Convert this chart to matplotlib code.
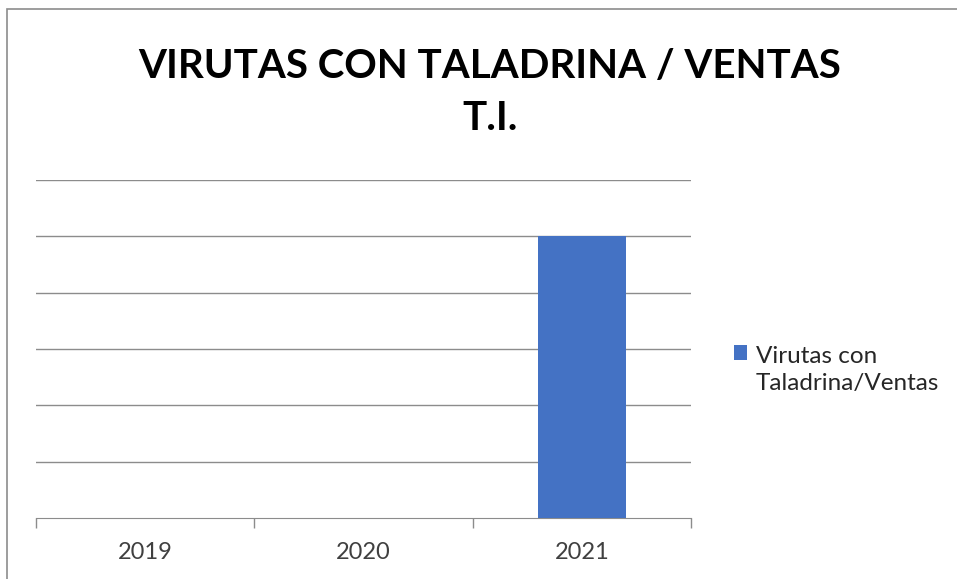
import matplotlib
matplotlib.use("Agg")
import matplotlib.pyplot as plt
from matplotlib.patches import Rectangle
from matplotlib.container import BarContainer
from matplotlib.legend_handler import HandlerPatch, update_from_first_child

categories = ["2019", "2020", "2021"]
values = [0, 0, 5]
series_name = "Virutas con\nTaladrina/Ventas"
title = "VIRUTAS CON TALADRINA / VENTAS\nT.I."

plt.rcParams['font.family'] = ['Lato', 'DejaVu Sans']

W, H = 957, 579
fig = plt.figure(figsize=(W/100, H/100), dpi=100)
fig.patch.set_facecolor('white')

# chart border (top and left visible)
fig.add_artist(Rectangle((7/W, -0.1), 1.2, 1 - 9/H + 0.1, transform=fig.transFigure,
                         fill=False, edgecolor='#8c8c8c', linewidth=1.2))

ax = fig.add_axes([36/W, 1 - 518/H, (691-36)/W, (518-180)/H])
x = list(range(len(categories)))
ax.bar(x, values, width=0.4, color='#4472C4', zorder=3, label=series_name)
ax.set_xlim(-0.5, 2.5)
ax.set_ylim(0, 6)
ax.set_yticks([1, 2, 3, 4, 5, 6])
ax.yaxis.grid(True, color='#8c8c8c', linewidth=1)
ax.tick_params(axis='y', length=0, labelleft=False)
for s in ['top', 'right', 'left']:
    ax.spines[s].set_visible(False)
ax.spines['bottom'].set_color('#8c8c8c')
ax.set_xticks([-0.5, 0.5, 1.5, 2.5])
ax.set_xticklabels([])
ax.tick_params(axis='x', length=7, color='#8c8c8c', width=1)
ax.set_xticks(x, minor=True)
ax.set_xticklabels(categories, minor=True, fontsize=17, color='#404040')
ax.tick_params(axis='x', which='minor', length=0, pad=17)

fig.text(490/W, 1 - 92/H, title, ha='center', va='center', fontsize=29,
         fontweight='bold', color='black', linespacing=1.5)


def raised_patch(legend, orig_handle, xdescent, ydescent, width, height, fontsize):
    return Rectangle((-xdescent, -ydescent + 0.72 * fontsize), width, height)


handler = HandlerPatch(patch_func=raised_patch, update_func=update_from_first_child)
leg = fig.legend(loc='center left', bbox_to_anchor=(729/W, 1 - 370/H), frameon=False,
                 fontsize=17.5, handlelength=0.55, handleheight=0.55, handletextpad=0.35,
                 labelcolor='#262626', borderpad=0.2, borderaxespad=0,
                 handler_map={BarContainer: handler})
for t in leg.get_texts():
    t.set_linespacing(1.3)

fig.savefig('out.png', dpi=100)
